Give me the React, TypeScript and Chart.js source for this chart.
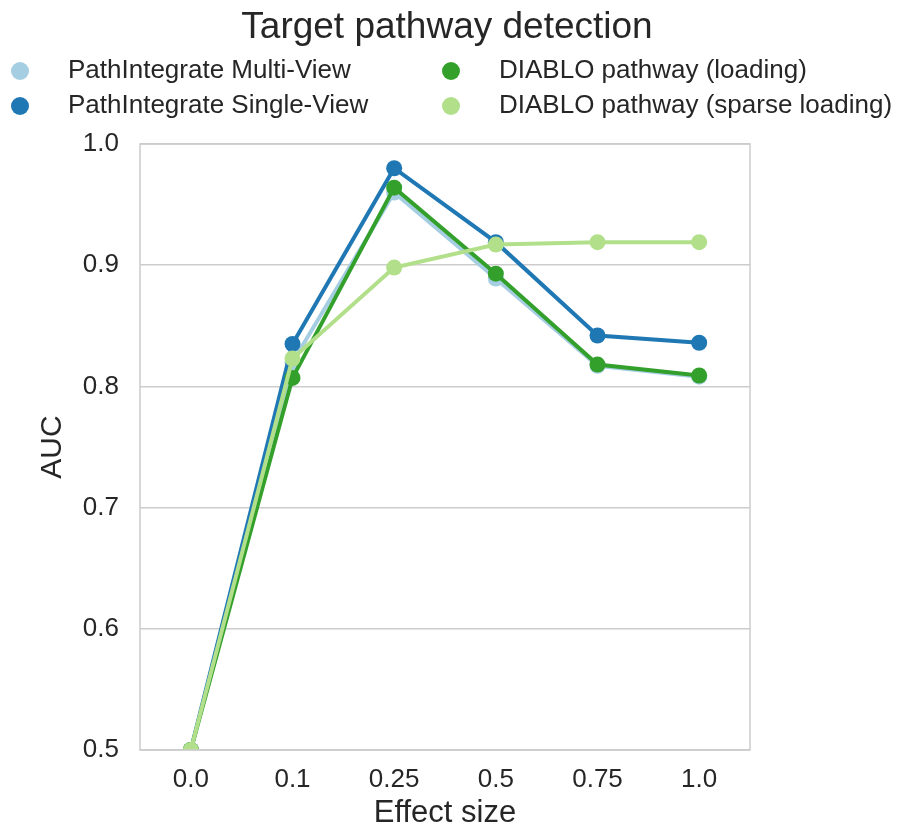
import React, { useEffect, useRef } from "react";
import { Chart, registerables } from "chart.js";

Chart.register(...registerables);

const categories = ["0.0", "0.1", "0.25", "0.5", "0.75", "1.0"];
const multiView = [0.5, 0.82, 0.96, 0.889, 0.817, 0.808];
const singleView = [0.5, 0.835, 0.98, 0.919, 0.842, 0.836];
const diabloLoading = [0.5, 0.807, 0.964, 0.893, 0.818, 0.809];
const diabloSparse = [0.5, 0.823, 0.898, 0.917, 0.919, 0.919];
const seriesNames = [
  "PathIntegrate Multi-View",
  "PathIntegrate Single-View",
  "DIABLO pathway (loading)",
  "DIABLO pathway (sparse loading)",
];
const seriesColors = ["#a6cee3", "#1f78b4", "#33a02c", "#b2df8a"];
const titleText = "Target pathway detection";
const yTitle = "AUC";
const xTitle = "Effect size";

const FONT = "'Liberation Sans', Arial, sans-serif";
const TEXT = "#262626";

const decorPlugin = {
  id: "decor",
  afterDraw(chart: any) {
    const ctx = chart.ctx;
    const a = chart.chartArea;
    ctx.save();
    // frame
    ctx.strokeStyle = "#cccccc";
    ctx.lineWidth = 1.5;
    ctx.strokeRect(a.left, a.top, a.right - a.left, a.bottom - a.top);
    // title
    ctx.fillStyle = TEXT;
    ctx.font = `37px ${FONT}`;
    ctx.textAlign = "center";
    ctx.textBaseline = "middle";
    ctx.fillText(titleText, 447, 28);
    // legend (column-major, 2 columns)
    const colX = [20, 451];
    const rowY = [71, 106];
    ctx.font = `26px ${FONT}`;
    ctx.textAlign = "left";
    seriesNames.forEach((name, i) => {
      const col = Math.floor(i / 2);
      const row = i % 2;
      ctx.beginPath();
      ctx.fillStyle = seriesColors[i];
      ctx.arc(colX[col], rowY[row], 9, 0, Math.PI * 2);
      ctx.fill();
      ctx.fillStyle = TEXT;
      ctx.fillText(name, colX[col] + 48, rowY[row]);
    });
    ctx.restore();
  },
};

export default function App() {
  const ref = useRef<HTMLCanvasElement | null>(null);
  useEffect(() => {
    if (!ref.current) return;
    const series = [multiView, singleView, diabloLoading, diabloSparse];
    const orders = [4, 3, 2, 1];
    const chart = new Chart(ref.current, {
      type: "line",
      data: {
        labels: categories,
        datasets: series.map((d, i) => ({
          label: seriesNames[i],
          data: d,
          borderColor: seriesColors[i],
          backgroundColor: seriesColors[i],
          borderWidth: 4,
          pointRadius: 8,
          pointHoverRadius: 8,
          pointBorderWidth: 0,
          tension: 0,
          order: orders[i],
        })),
      },
      options: {
        animation: false,
        responsive: false,
        maintainAspectRatio: false,
        layout: { padding: { top: 144, right: 149, left: 0, bottom: 0 } },
        plugins: {
          legend: { display: false },
          title: { display: false },
          tooltip: { enabled: false },
        },
        scales: {
          x: {
            type: "category",
            offset: true,
            grid: { display: false, drawTicks: false },
            border: { display: false },
            ticks: { color: TEXT, font: { family: FONT, size: 26 }, padding: 14 },
            title: {
              display: true,
              text: xTitle,
              color: TEXT,
              font: { family: FONT, size: 31 },
              padding: { top: 0, bottom: 0 },
            },
            afterFit: (s: any) => {
              s.height = 82;
            },
          },
          y: {
            min: 0.5,
            max: 1.0,
            grid: { color: "#cccccc", lineWidth: 1.5, drawTicks: false },
            border: { display: false },
            ticks: {
              stepSize: 0.1,
              color: TEXT,
              font: { family: FONT, size: 26 },
              padding: 21,
              callback: (v: any) => Number(v).toFixed(1),
            },
            title: {
              display: true,
              text: yTitle,
              color: TEXT,
              font: { family: FONT, size: 30 },
              padding: { top: 35, bottom: 0 },
            },
            afterFit: (s: any) => {
              s.width = 140;
            },
          },
        },
      },
      plugins: [decorPlugin],
    });
    return () => chart.destroy();
  }, []);
  return (
    <div style={{ position: "absolute", left: 0, top: 0, width: 899, height: 832, background: "#fff" }}>
      <canvas ref={ref} width={899} height={832} style={{ display: "block" }} />
    </div>
  );
}
